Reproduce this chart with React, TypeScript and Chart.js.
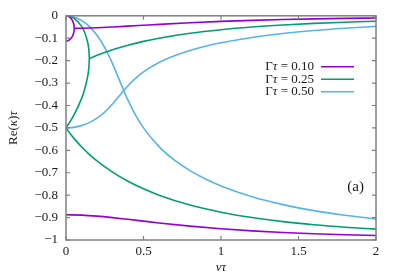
import React, { useEffect, useRef } from "react";
import { Chart, registerables } from "chart.js";

Chart.register(...registerables);

const W = 399;
const H = 279;
const FONT = '"Liberation Serif", "Times New Roman", serif';
const TEXT = "#1a1a1a";
const AXIS = "#808080";

// Γτ = 0.10 (purple)
const nuPurpleLoop = [0, 0.01, 0.02, 0.03, 0.04, 0.045, 0.05, 0.052, 0.0529];
const purpleUpper = [0, -0.001, -0.0042, -0.0099, -0.0194, -0.0266, -0.0378, -0.0459, -0.0561];
const purpleMid = [-0.1127, -0.1117, -0.1085, -0.1027, -0.0931, -0.0858, -0.0745, -0.0664, -0.0561];
const nuPurplePair = [0.0529, 0.06, 0.1, 0.2, 0.3, 0.4, 0.5, 0.6, 0.8, 1.0, 1.2, 1.4, 1.6, 1.8, 2.0];
const purplePair = [-0.0561, -0.0561, -0.0555, -0.0533, -0.05, -0.0461, -0.0421, -0.0381, -0.0309, -0.025, -0.0203, -0.0167, -0.0139, -0.0117, -0.0099];
const nuPurpleLow = [0, 0.1, 0.2, 0.3, 0.4, 0.5, 0.6, 0.8, 1.0, 1.2, 1.4, 1.6, 1.8, 2.0];
const purpleLow = [-0.8873, -0.8889, -0.8934, -0.9, -0.9078, -0.9159, -0.9239, -0.9383, -0.9501, -0.9594, -0.9666, -0.9723, -0.9767, -0.9802];

// Γτ = 0.25 (green)
const nuGreenLoop = [0, 0.02, 0.05, 0.1, 0.12, 0.14, 0.145, 0.149, 0.1502];
const greenUpper = [0, -0.0016, -0.0103, -0.0463, -0.0733, -0.1189, -0.1388, -0.1659, -0.191];
const greenMid = [-0.5, -0.4791, -0.4441, -0.3693, -0.3284, -0.2695, -0.2465, -0.2168, -0.191];
const nuGreenPair = [0.1502, 0.2, 0.3, 0.4, 0.5, 0.6, 0.8, 1.0, 1.2, 1.4, 1.6, 1.8, 2.0];
const greenPair = [-0.191, -0.1762, -0.1512, -0.1309, -0.1141, -0.1, -0.078, -0.062, -0.05, -0.041, -0.034, -0.0286, -0.0243];
const nuGreenLow = [0, 0.02, 0.05, 0.1, 0.15, 0.2, 0.3, 0.4, 0.5, 0.6, 0.8, 1.0, 1.2, 1.4, 1.6, 1.8, 2.0];
const greenLow = [-0.5, -0.5193, -0.5456, -0.5844, -0.618, -0.6476, -0.6976, -0.7382, -0.7718, -0.8, -0.844, -0.8761, -0.9, -0.9181, -0.932, -0.9429, -0.9515];

// Γτ = 0.50 (blue)
const nuBlue = [0, 0.05, 0.1, 0.15, 0.2, 0.25, 0.3, 0.35, 0.4, 0.45, 0.5, 0.6, 0.7, 0.8, 0.9, 1.0, 1.2, 1.4, 1.6, 1.8, 2.0];
const blueReal = [0, -0.005, -0.0204, -0.0471, -0.0868, -0.1418, -0.2131, -0.2957, -0.3762, -0.4445, -0.5, -0.5835, -0.6441, -0.6908, -0.7283, -0.7592, -0.807, -0.8422, -0.8689, -0.8897, -0.906];
const bluePair = [-0.5, -0.4975, -0.4898, -0.4765, -0.4566, -0.4291, -0.3935, -0.3522, -0.3119, -0.2778, -0.25, -0.2083, -0.178, -0.1546, -0.1359, -0.1204, -0.0965, -0.0789, -0.0656, -0.0552, -0.047];

const legendValues = ["0.10", "0.25", "0.50"];
const seriesColors = ["#9400d3", "#009e73", "#56b4e9"];
const xTicks = [0, 0.5, 1, 1.5, 2];
const yTicks = [0, -0.1, -0.2, -0.3, -0.4, -0.5, -0.6, -0.7, -0.8, -0.9, -1];
const panelLabel = "(a)";

type Part = [string, boolean];

function setFont(ctx: CanvasRenderingContext2D, italic: boolean, size: number) {
  ctx.font = `${italic ? "italic " : ""}${size}px ${FONT}`;
}
function richWidth(ctx: CanvasRenderingContext2D, parts: Part[], size: number) {
  let w = 0;
  for (const [t, it] of parts) {
    setFont(ctx, it, size);
    w += ctx.measureText(t).width;
  }
  return w;
}
function drawRich(ctx: CanvasRenderingContext2D, parts: Part[], x: number, y: number, size: number) {
  let cx = x;
  for (const [t, it] of parts) {
    setFont(ctx, it, size);
    ctx.fillText(t, cx, y);
    cx += ctx.measureText(t).width;
  }
}

function series(xs: number[], ys: number[], color: string) {
  return {
    data: xs.map((x, i) => ({ x, y: ys[i] })),
    borderColor: color,
    backgroundColor: color,
    borderWidth: 1.6,
    pointRadius: 0,
    showLine: true,
    fill: false,
    cubicInterpolationMode: "monotone" as const,
  };
}

function fmt(v: number) {
  const r = Math.round(v * 10) / 10;
  if (r === 0) return "0";
  return (r < 0 ? "\u2212" : "") + String(Math.abs(r));
}

const decor = {
  id: "decor",
  afterDatasetsDraw(chart: any) {
    const { ctx, chartArea: a, scales } = chart;
    const xs = scales.x;
    const ys = scales.y;
    ctx.save();
    ctx.strokeStyle = AXIS;
    ctx.lineWidth = 1.2;
    ctx.beginPath();
    for (const v of yTicks) {
      const py = ys.getPixelForValue(v);
      ctx.moveTo(a.left, py);
      ctx.lineTo(a.left + 4, py);
      ctx.moveTo(a.right, py);
      ctx.lineTo(a.right - 4, py);
    }
    for (const v of xTicks) {
      const px = xs.getPixelForValue(v);
      ctx.moveTo(px, a.bottom);
      ctx.lineTo(px, a.bottom - 4);
      ctx.moveTo(px, a.top);
      ctx.lineTo(px, a.top + 4);
    }
    ctx.stroke();
    ctx.lineWidth = 1.5;
    ctx.strokeRect(a.left, a.top, a.right - a.left, a.bottom - a.top);

    ctx.fillStyle = TEXT;
    ctx.textBaseline = "middle";
    ctx.textAlign = "left";

    // legend
    const textRight = a.right - 62;
    const lineStart = a.right - 55;
    const lineEnd = a.right - 22;
    legendValues.forEach((lab, i) => {
      const y = a.top + 51 + i * 12.5;
      const parts: Part[] = [["\u0393", false], ["\u03c4", true], [" = " + lab, false]];
      const w = richWidth(ctx, parts, 13);
      ctx.fillStyle = TEXT;
      drawRich(ctx, parts, textRight - w, y, 13);
      ctx.strokeStyle = seriesColors[i];
      ctx.lineWidth = 1.6;
      ctx.beginPath();
      ctx.moveTo(lineStart, y);
      ctx.lineTo(lineEnd, y);
      ctx.stroke();
    });

    // panel label
    ctx.fillStyle = TEXT;
    setFont(ctx, false, 15);
    ctx.textAlign = "right";
    ctx.fillText(panelLabel, a.right - 12, a.top + 171);
    ctx.textAlign = "left";

    // x title
    const xt: Part[] = [["\u03bd", true], ["\u03c4", true]];
    const xw = richWidth(ctx, xt, 13);
    drawRich(ctx, xt, (a.left + a.right) / 2 - xw / 2, 268, 13);

    // y title
    const yt: Part[] = [["Re(", false], ["\u03ba", true], [")", false], ["\u03c4", true]];
    const yw = richWidth(ctx, yt, 13);
    ctx.translate(14, 128);
    ctx.rotate(-Math.PI / 2);
    drawRich(ctx, yt, -yw / 2, 0, 13);
    ctx.restore();
  },
};

export default function App() {
  const ref = useRef<HTMLCanvasElement | null>(null);
  useEffect(() => {
    document.body.style.margin = "0";
    const canvas = ref.current;
    if (!canvas) return;
    const tickFont = { family: FONT, size: 13 };
    const chart = new Chart(canvas, {
      type: "scatter",
      data: {
        datasets: [
          series(nuPurpleLoop, purpleUpper, seriesColors[0]),
          series(nuPurpleLoop, purpleMid, seriesColors[0]),
          series(nuPurplePair, purplePair, seriesColors[0]),
          series(nuPurpleLow, purpleLow, seriesColors[0]),
          series(nuGreenLoop, greenUpper, seriesColors[1]),
          series(nuGreenLoop, greenMid, seriesColors[1]),
          series(nuGreenPair, greenPair, seriesColors[1]),
          series(nuGreenLow, greenLow, seriesColors[1]),
          series(nuBlue, blueReal, seriesColors[2]),
          series(nuBlue, bluePair, seriesColors[2]),
        ] as any,
      },
      options: {
        responsive: false,
        animation: false,
        devicePixelRatio: 1,
        layout: { padding: { top: 12, right: 23, left: 0, bottom: 0 } },
        plugins: { legend: { display: false }, tooltip: { enabled: false } },
        scales: {
          x: {
            type: "linear",
            min: 0,
            max: 2,
            afterFit: (s: any) => {
              s.height = 39;
            },
            grid: { display: false, drawTicks: false },
            border: { display: false },
            ticks: {
              stepSize: 0.5,
              padding: 4,
              font: tickFont,
              color: TEXT,
              maxRotation: 0,
              autoSkip: false,
              callback: (v: any) => fmt(Number(v)),
            },
          },
          y: {
            type: "linear",
            min: -1,
            max: 0,
            afterFit: (s: any) => {
              s.width = 66;
            },
            grid: { display: false, drawTicks: false },
            border: { display: false },
            ticks: {
              stepSize: 0.1,
              padding: 8,
              font: tickFont,
              color: TEXT,
              autoSkip: false,
              callback: (v: any) => fmt(Number(v)),
            },
          },
        },
      } as any,
      plugins: [decor],
    });
    return () => chart.destroy();
  }, []);
  return <canvas ref={ref} width={W} height={H} style={{ display: "block" }} />;
}
